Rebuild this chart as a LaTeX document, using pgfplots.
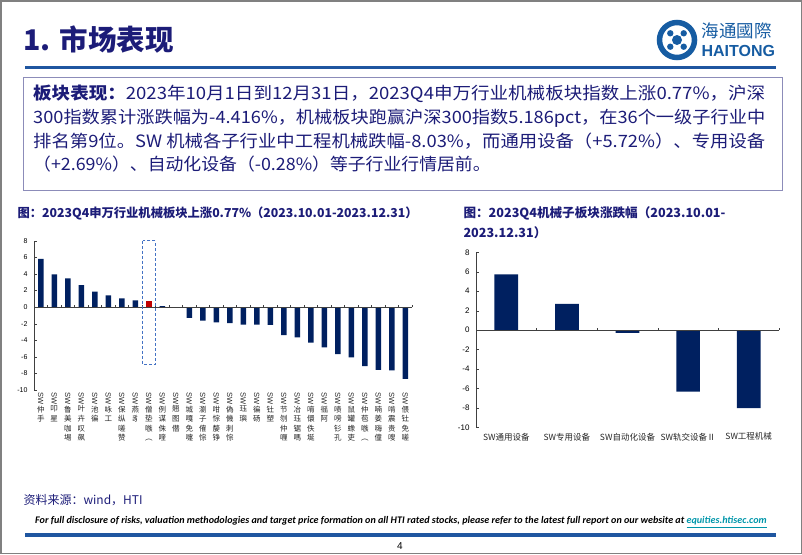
\documentclass[border=0pt]{standalone}
\usepackage{pgfplots}
\pgfplotsset{compat=1.18}
\usepackage{graphicx}
\usepackage{fontspec}
\setmainfont{Noto Sans CJK SC}
\newfontfamily\arial{Liberation Sans}
\newfontfamily\calibri{Carlito}

\definecolor{navy}{RGB}{0,32,96}
\definecolor{hred}{RGB}{192,0,0}
\definecolor{txtnavy}{RGB}{28,28,120}
\definecolor{rulec}{RGB}{31,86,160}
\definecolor{logoc}{RGB}{22,92,162}
\definecolor{boxc}{RGB}{140,140,185}
\definecolor{linkc}{RGB}{0,150,170}
\definecolor{dashc}{RGB}{68,114,196}

% vertical category label: rotated SW, then the characters stacked
\newcommand{\vl}[1]{\vbox{\baselineskip=9.6pt\lineskip=1pt\lineskiplimit=0pt\let\\\cr
  \halign{\hfil##\hfil\cr\rotatebox{-90}{\arial SW}\cr#1\crcr}}}

\begin{document}
\begin{tikzpicture}
\path[use as bounding box] (0pt,0pt) rectangle (802pt,-554pt);
\draw[black!50, line width=1.5pt] (0.75pt,-0.75pt) rectangle (801.25pt,-553.25pt);

% header
\node[anchor=west, text=txtnavy, font=\fontsize{28.5}{30}\selectfont\bfseries] at (20pt,-40pt) {1. 市场表现};
\draw[logoc, line width=5.5pt] (677pt,-40pt) circle (17.5pt);
\fill[logoc] (677pt,-40pt) circle (5pt);
\foreach \a in {45,135,225,315}
  \fill[logoc] ([shift={(\a:9.5pt)}]677pt,-40pt) circle (3.2pt);
\node[anchor=west, text=logoc, font=\fontsize{17.5}{18}\selectfont] at (698pt,-31pt) {海通國際};
\node[anchor=west, text=logoc, font=\arial\fontsize{16}{17}\selectfont\bfseries] at (698pt,-51pt) {HAITONG};
\draw[rulec, line width=3pt] (25pt,-67pt) -- (776pt,-67pt);

% text box
\draw[boxc, line width=0.8pt] (23pt,-77pt) rectangle (782pt,-190pt);
\begin{scope}[every node/.style={anchor=west, text=txtnavy, inner sep=0pt, font=\fontsize{17}{18}\selectfont}]
\node at (33pt,-94pt) {\resizebox{732pt}{\height}{{\bfseries 板块表现：}2023年10月1日到12月31日，2023Q4申万行业机械板块指数上涨0.77\%，沪深}};
\node at (33pt,-118pt) {\resizebox{732pt}{\height}{300指数累计涨跌幅为-4.416\%，机械板块跑赢沪深300指数5.186pct，在36个一级子行业中}};
\node at (33pt,-141pt) {\resizebox{732pt}{\height}{排名第9位。SW 机械各子行业中工程机械跌幅-8.03\%，而通用设备（+5.72\%）、专用设备}};
\node at (33pt,-164pt) {\scalebox{1.05}[1]{（+2.69\%）、自动化设备（-0.28\%）等子行业行情居前。}};
\end{scope}

% chart titles
\node[anchor=west, text=txtnavy, font=\fontsize{12.3}{14}\selectfont\bfseries] at (14pt,-213pt) {图：2023Q4申万行业机械板块上涨0.77\%（2023.10.01-2023.12.31）};
\node[anchor=west, text=txtnavy, font=\fontsize{12.6}{14}\selectfont\bfseries] at (460pt,-213pt) {图：2023Q4机械子板块涨跌幅（2023.10.01-};
\node[anchor=west, text=txtnavy, font=\fontsize{12.6}{14}\selectfont\bfseries] at (460pt,-233pt) {2023.12.31）};

% left chart: SW level-1 industries
\begin{axis}[
  at={(34pt,-390pt)}, anchor=south west,
  scale only axis, width=378pt, height=149.3pt,
  ybar, bar width=5.5pt, bar shift=0pt,
  xmin=0.5, xmax=28.5, ymin=-10, ymax=8,
  ytick={-10,-8,...,8},
  axis y line*=left, axis x line*=bottom,
  x axis line style={draw=none},
  y axis line style={black!75, line width=0.6pt},
  tick align=inside, major tick length=2.5pt,
  ytick style={black!75},
  xtick style={draw=none},
  xtick={1,...,28},
  xticklabels={\vl{仲\\手},\vl{叩\\星},\vl{鲁\\美\\咖\\埸},\vl{叶\\卉\\叹\\飙},\vl{池\\徧},\vl{咏\\工},\vl{保\\纵\\嗟\\赞},\vl{燕\\豸},\vl{僧\\垫\\嗾\\︵},\vl{例\\谋\\侏\\喹},\vl{翘\\图\\僣},\vl{城\\嘎\\免\\嚏},\vl{瀏\\子\\傕\\悰},\vl{咁\\悰\\嫠\\铮},\vl{偽\\僟\\刺\\悰},\vl{珏\\璵},\vl{徧\\砀},\vl{钍\\塑},\vl{节\\刎\\仲\\喱},\vl{冶\\珏\\锯\\嗎},\vl{唷\\儇\\佚\\埏},\vl{徭\\阿},\vl{啧\\嗙\\钐\\孔},\vl{鼠\\罐\\蟓\\吏},\vl{仲\\苞\\嗾\\︵},\vl{喃\\姜\\嗨\\僮},\vl{啃\\震\\贵\\嗖},\vl{偎\\钍\\免\\嗟}},
  xticklabel style={font=\fontsize{7.5}{9.6}\selectfont, text=black!85, anchor=north, inner sep=0.5pt, yshift=-2pt},
  yticklabel style={font=\arial\fontsize{7}{8}\selectfont, xshift=-3pt},
  /pgf/number format/assume math mode=true,
  clip=false,
]
\addplot[fill=navy, draw=none] coordinates {
 (1,5.80) (2,3.94) (3,3.46) (4,2.65) (5,1.85) (6,1.41) (7,1.05) (8,0.81)
 (10,0.10) (11,-0.03) (12,-1.29) (13,-1.65) (14,-1.85) (15,-1.93) (16,-2.13)
 (17,-2.13) (18,-2.15) (19,-3.38) (20,-3.66) (21,-4.30) (22,-4.86) (23,-5.67)
 (24,-6.07) (25,-7.12) (26,-7.56) (27,-7.64) (28,-8.65)};
\addplot[fill=hred, draw=none] coordinates {(9,0.77)};
\draw[black!75, line width=0.6pt] (axis cs:0.5,0) -- (axis cs:28.5,0);
\pgfplotsinvokeforeach{0.5,1.5,...,28.5}{\draw[black!75, line width=0.5pt] (axis cs:#1,0) -- ++(0pt,2.5pt);}
\draw[dashc, densely dashed, line width=0.8pt] (axis cs:8.55,8) rectangle (axis cs:9.5,-6.9);
\end{axis}

% right chart: machinery sub-sectors
\begin{axis}[
  at={(476pt,-427.3pt)}, anchor=south west,
  scale only axis, width=303pt, height=175pt,
  ybar, bar width=23.7pt, bar shift=0pt,
  xmin=0.5, xmax=5.5, ymin=-10, ymax=8,
  ytick={-10,-8,...,8},
  axis y line*=left, axis x line*=bottom,
  x axis line style={draw=none},
  y axis line style={black!75, line width=0.6pt},
  tick align=inside, major tick length=2.5pt,
  ytick style={black!75},
  xtick style={draw=none},
  xtick={1,...,5},
  xticklabels={SW通用设备,SW专用设备,SW自动化设备,SW轨交设备Ⅱ,SW工程机械},
  xticklabel style={font=\fontsize{8.5}{9}\selectfont, text=black!85, yshift=-2pt},
  yticklabel style={font=\arial\fontsize{8}{9}\selectfont, xshift=-3pt},
  /pgf/number format/assume math mode=true,
  clip=false,
]
\addplot[fill=navy, draw=none] coordinates {(1,5.72) (2,2.69) (3,-0.28) (4,-6.33) (5,-8.03)};
\draw[black!75, line width=0.6pt] (axis cs:0.5,0) -- (axis cs:5.5,0);
\pgfplotsinvokeforeach{1.5,2.5,3.5,4.5,5.5}{\draw[black!75, line width=0.5pt] (axis cs:#1,0) -- ++(0pt,2.5pt);}
\end{axis}

% footer
\node[anchor=west, text=txtnavy, font=\fontsize{12}{13}\selectfont] at (20pt,-500pt) {资料来源：wind，HTI};
\node[anchor=west, inner sep=0pt, font=\calibri\fontsize{10.1}{11}\selectfont\bfseries\itshape] at (35pt,-522pt)
  {For full disclosure of risks, valuation methodologies and target price formation on all HTI rated stocks, please refer to the latest full report on our website at \textcolor{linkc}{\underline{equities.htisec.com}}};
\draw[rulec, line width=4pt] (25pt,-535pt) -- (776pt,-535pt);
\node[font=\arial\fontsize{10}{11}\selectfont] at (400pt,-546pt) {4};
\end{tikzpicture}
\end{document}
